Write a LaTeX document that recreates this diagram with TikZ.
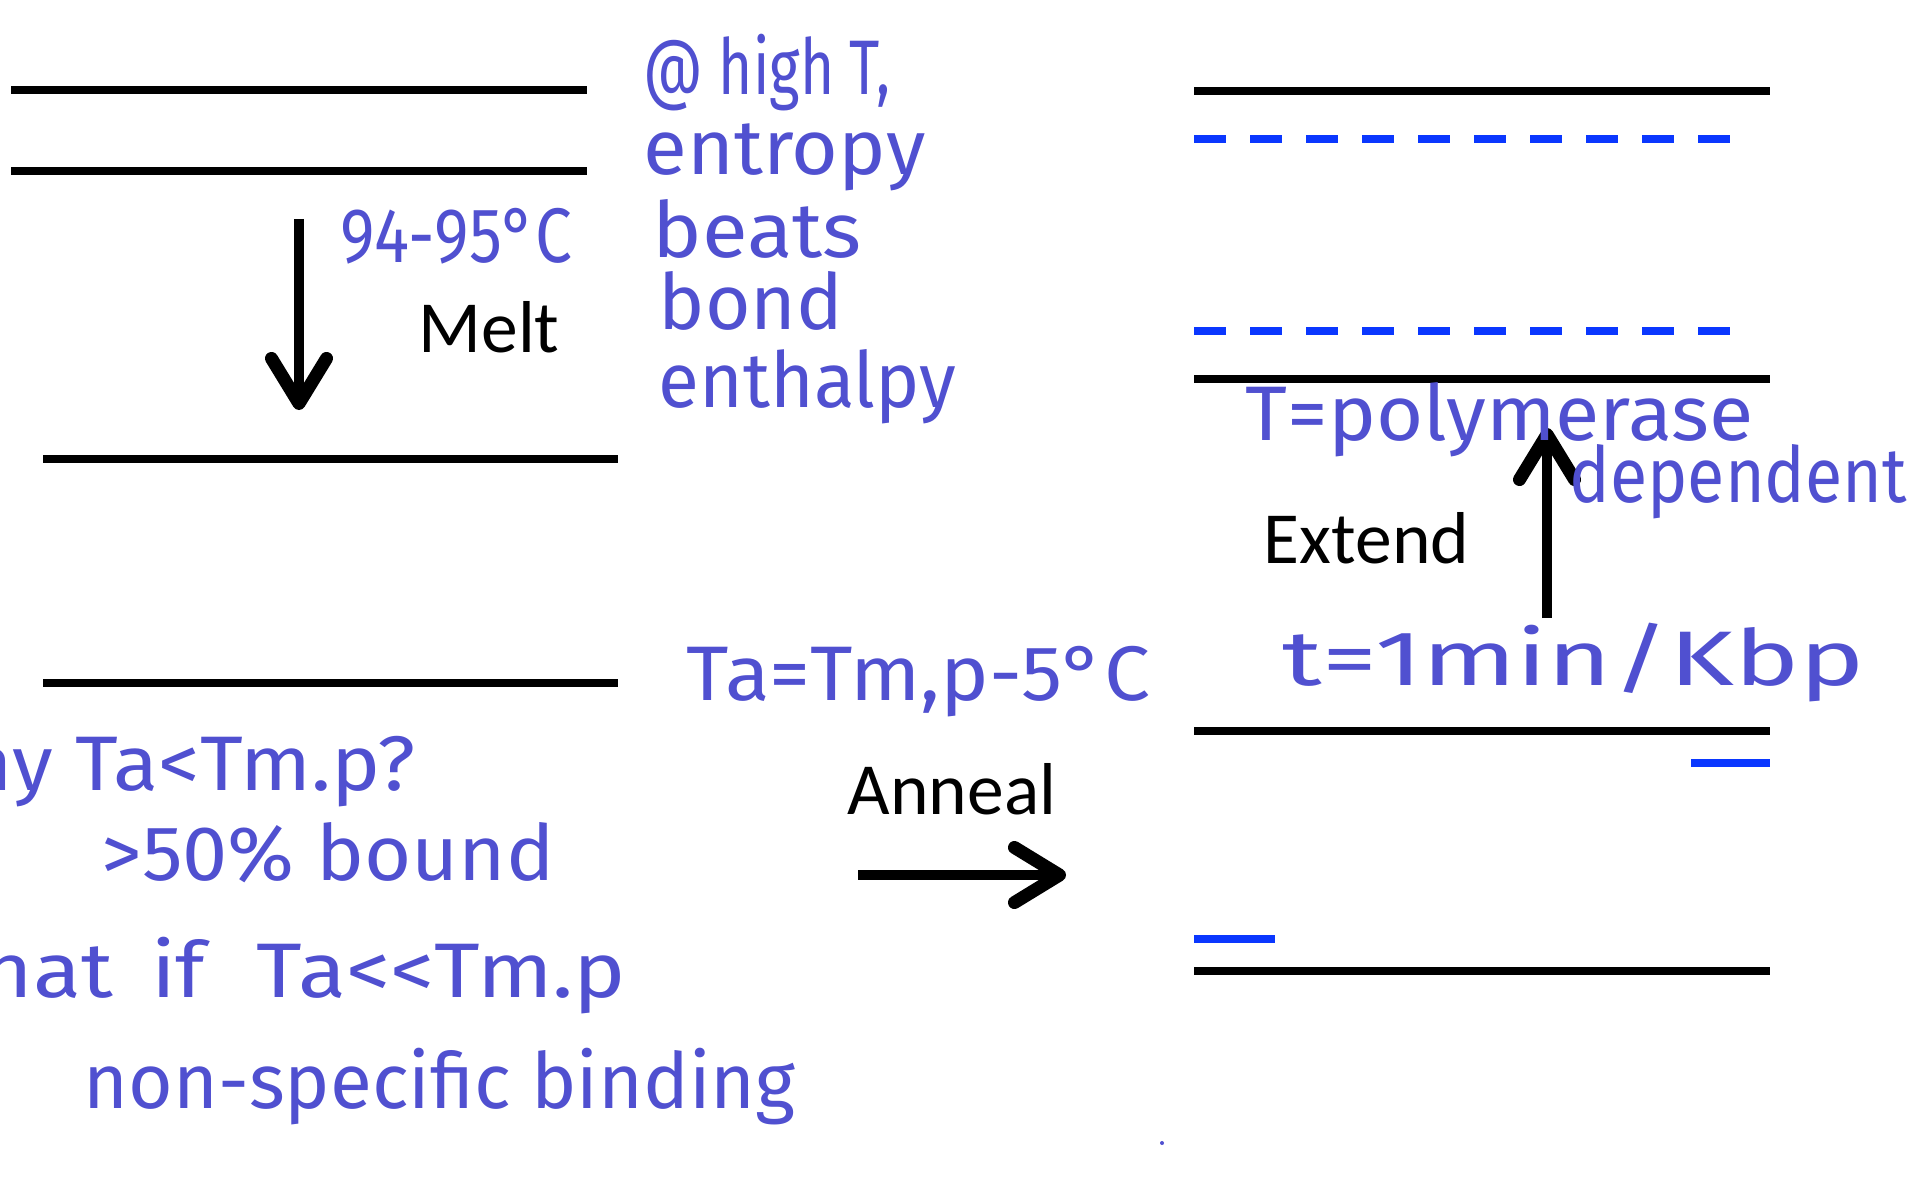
\documentclass[tikz,border=0pt]{standalone}
\usepackage{fontspec}
\setmainfont{Carlito}
\newfontfamily\handfont{Fira Sans}
\usepackage{tikz}
\usetikzlibrary{arrows.meta}
\definecolor{inkblue}{RGB}{80,80,208}
\definecolor{primerblue}{RGB}{10,55,255}
\newcommand{\inkcolor}{inkblue}
\newcommand{\strandwidth}{0.075cm}
\newcommand{\squeeze}[2]{\scalebox{#1}[1]{#2}}
\tikzset{
  strand/.style={line width=\strandwidth},
  primer/.style={primerblue, line width=0.08cm},
  handnote/.style={text=\inkcolor, font=\handfont\fontsize{22}{26}\selectfont, inner sep=0pt, anchor=base west},
  stage/.style={font=\fontsize{20.9}{24}\selectfont, inner sep=0pt, anchor=base west},
  stagearrow/.style={line width=0.1cm, -{Straight Barb[round, length=0.45cm, width=0.55cm, line width=0.13cm]}}
}

\begin{document}
\begin{tikzpicture}[x=0.01cm, y=-0.01cm]
\useasboundingbox (0,0) rectangle (1921,1185);
\clip (0,0) rectangle (1921,1185);
%double strand
\coordinate (1a) at (11,90);
\coordinate (1b) at (587,90);
\coordinate (2a) at (11,171);
\coordinate (2b) at (587,171);
\draw[strand] (1a) -- (1b);
\draw[strand] (2a) -- (2b);
%melted
\coordinate (3a) at (43,459);
\coordinate (3b) at (618,459);
\coordinate (4a) at (43,683);
\coordinate (4b) at (618,683);
\draw[strand] (3a) -- (3b);
\draw[strand] (4a) -- (4b);
%extended
\coordinate (5a) at (1194,91);
\coordinate (5b) at (1770,91);
\coordinate (6a) at (1194,139);
\coordinate (6b) at (1730,139);
\coordinate (7a) at (1194,331);
\coordinate (7b) at (1730,331);
\coordinate (8a) at (1194,379);
\coordinate (8b) at (1770,379);
\draw[strand] (5a) -- (5b);
\draw[primer, dash pattern=on 0.32cm off 0.24cm] (6a) -- (6b);
\draw[primer, dash pattern=on 0.32cm off 0.24cm] (7a) -- (7b);
\draw[strand] (8a) -- (8b);
%annealed
\coordinate (9a) at (1194,731);
\coordinate (9b) at (1770,731);
\coordinate (10a) at (1691,763);
\coordinate (10b) at (1770,763);
\coordinate (11a) at (1194,939);
\coordinate (11b) at (1275,939);
\coordinate (12a) at (1194,971);
\coordinate (12b) at (1770,971);
\draw[strand] (9a) -- (9b);
\draw[primer] (10a) -- (10b);
\draw[primer] (11a) -- (11b);
\draw[strand] (12a) -- (12b);
%steps
\node[stage] (melt) at (418,352) {Melt};
\node[stage] (anneal) at (847,814) {Anneal};
\node[stage] (extend) at (1263,563) {Extend};
\coordinate (meltfrom) at (299,219);
\coordinate (meltto) at (299,410);
\coordinate (annealfrom) at (858,875);
\coordinate (annealto) at (1066,875);
\coordinate (extendfrom) at (1547,618);
\coordinate (extendto) at (1547,428);
\draw[stagearrow] (meltfrom) -- (meltto);
\draw[stagearrow] (annealfrom) -- (annealto);
\draw[stagearrow] (extendfrom) -- (extendto);
%notes
\node[handnote] (melttemp) at (340,262) {\squeeze{0.85}{94-95°C}};
\node[handnote] (hot) at (643,95) {\squeeze{0.756}{@ high T,}};
\node[handnote] (entropy) at (643,175) {\squeeze{1.036}{entropy}};
\node[handnote] (beats) at (652,258) {\squeeze{1.08}{beats}};
\node[handnote] (bond) at (658,330) {\squeeze{1.01}{bond}};
\node[handnote] (enthalpy) at (658,407) {\squeeze{0.966}{enthalpy}};
\node[handnote] (anntemp) at (686,700) {\squeeze{1.06}{Ta=Tm,p-5°C}};
\node[handnote, anchor=base east] (why) at (416,790) {\squeeze{1.07}{why Ta<Tm.p?}};
\node[handnote] (half) at (101,880) {\squeeze{1.047}{>50\% bound}};
\node[handnote, anchor=base east] (whatif) at (627,997) {\squeeze{1.14}{what\hspace{0.33cm}if\hspace{0.45cm}Ta<{}<Tm.p}};
\node[handnote] (nonspec) at (83,1108) {\squeeze{0.99}{non-specific binding}};
\node[handnote] (polytemp) at (1245,440) {\squeeze{1.047}{T=polymerase}};
\node[handnote] (dependent) at (1569,502) {\squeeze{0.88}{dependent}};
\node[handnote] (time) at (1282,685) {\squeeze{1.42}{t=1min/Kbp}};
\fill[\inkcolor] (1162,1143) circle (0.02cm);
\end{tikzpicture}
\end{document}
